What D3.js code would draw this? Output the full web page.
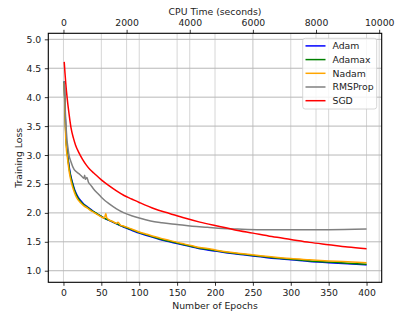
<html>
<head>
    <script type="text/javascript" src="https://cdnjs.cloudflare.com/ajax/libs/d3/7.8.5/d3.min.js"></script>
    <style>
        body { margin: 0; background: white; }
        text { font-family: "DejaVu Sans", sans-serif; fill: #222; }
    </style>
</head>
<body>
    <div id="viz"></div>
    <script type="text/javascript">

    // series names (legend order = draw order)
    var names = ["Adam", "Adamax", "Nadam", "RMSProp", "SGD"];
    var colors = ["blue", "green", "orange", "gray", "red"];

    // [epoch, training loss]
    var adam = [[1,4.27],[2,3.85],[3,3.42],[4,3.2],[5,3.07],[6,2.95],[7,2.85],[8,2.76],[10,2.62],[12,2.52],[14,2.43],[16,2.36],[19,2.28],[23,2.21],[27,2.15],[32,2.10],[36,2.06],[40,2.02],[45,1.98],[50,1.94],[55,1.90],[60,1.87],[70,1.81],[80,1.75],[90,1.70],[100,1.65],[110,1.61],[120,1.57],[130,1.53],[140,1.50],[150,1.47],[160,1.44],[170,1.41],[180,1.38],[190,1.36],[200,1.34],[220,1.30],[240,1.27],[260,1.24],[280,1.21],[300,1.19],[325,1.16],[350,1.14],[375,1.12],[400,1.10]];
    var adamax = [[1,4.27],[2,3.82],[3,3.38],[4,3.16],[5,3.03],[6,2.92],[7,2.82],[8,2.73],[10,2.60],[12,2.50],[14,2.41],[16,2.34],[19,2.26],[23,2.19],[27,2.14],[32,2.09],[36,2.05],[40,2.02],[45,1.98],[50,1.94],[55,1.90],[60,1.875],[70,1.815],[80,1.76],[90,1.71],[100,1.66],[110,1.62],[120,1.58],[130,1.54],[140,1.51],[150,1.48],[160,1.45],[170,1.42],[180,1.39],[190,1.37],[200,1.35],[220,1.31],[240,1.28],[260,1.25],[280,1.22],[300,1.20],[325,1.17],[350,1.15],[375,1.13],[400,1.11]];
    var nadam = [[1,4.25],[2,3.75],[3,3.3],[4,3.08],[5,2.98],[6,2.87],[7,2.77],[8,2.68],[10,2.55],[12,2.45],[14,2.37],[16,2.30],[19,2.23],[23,2.17],[27,2.12],[32,2.08],[36,2.04],[40,2.01],[45,1.97],[50,1.93],[54,1.91],[56,1.99],[57,1.92],[60,1.88],[65,1.85],[70,1.82],[72,1.84],[75,1.79],[80,1.77],[85,1.745],[90,1.72],[100,1.67],[110,1.63],[120,1.59],[130,1.555],[140,1.525],[150,1.49],[160,1.46],[170,1.43],[180,1.40],[190,1.385],[200,1.36],[220,1.32],[240,1.29],[260,1.26],[280,1.235],[300,1.21],[325,1.19],[350,1.17],[375,1.155],[400,1.14]];
    var rmsprop = [[1,4.27],[2,3.9],[3,3.6],[4,3.38],[5,3.22],[6,3.12],[7,3.02],[10,2.88],[14,2.75],[18,2.70],[22,2.66],[25,2.62],[27,2.60],[28,2.65],[29,2.58],[31,2.61],[33,2.53],[36,2.48],[40,2.41],[45,2.34],[50,2.27],[55,2.21],[60,2.16],[70,2.07],[80,2.0],[90,1.95],[100,1.91],[115,1.86],[130,1.83],[150,1.80],[170,1.77],[190,1.75],[210,1.73],[230,1.72],[260,1.71],[300,1.71],[350,1.71],[400,1.72]];
    var sgd = [[1,4.61],[2,4.42],[3,4.25],[5,3.97],[7,3.75],[10,3.47],[13,3.30],[16,3.17],[20,3.05],[25,2.93],[30,2.83],[35,2.75],[40,2.69],[50,2.57],[60,2.47],[70,2.38],[80,2.30],[90,2.24],[100,2.18],[120,2.07],[140,1.99],[160,1.91],[180,1.84],[200,1.78],[225,1.71],[250,1.65],[275,1.59],[300,1.54],[325,1.49],[350,1.45],[375,1.41],[400,1.38]];
    var series = [adam, adamax, nadam, rmsprop, sgd];

    // ticks
    var epochTicks = [0, 50, 100, 150, 200, 250, 300, 350, 400];
    var cpuTicks = [0, 2000, 4000, 6000, 8000, 10000];
    var lossTicks = [1.0, 1.5, 2.0, 2.5, 3.0, 3.5, 4.0, 4.5, 5.0];

    var W = 398, H = 317;
    var padL = 48.3, padR = 381.7, padT = 33.3, padB = 282.3;

    var x = d3.scaleLinear().domain([-20, 420]).range([padL, padR]);
    var xTop = d3.scaleLinear().domain([-480, 10080]).range([padL, padR]);
    var y = d3.scaleLinear().domain([0.80, 5.104]).range([padB, padT]);

    var svg = d3.select("#viz")
        .append("svg")
        .attr("width", W)
        .attr("height", H);

    svg.append("rect").attr("width", W).attr("height", H).attr("fill", "white");

    // grid
    var grid = svg.append("g");
    grid.selectAll(".vg").data(epochTicks).enter().append("line")
        .attr("x1", d => x(d)).attr("x2", d => x(d))
        .attr("y1", padT).attr("y2", padB)
        .style("stroke", "#d6d6d6").style("stroke-width", 1);
    grid.selectAll(".vt").data(cpuTicks).enter().append("line")
        .attr("x1", d => xTop(d)).attr("x2", d => xTop(d))
        .attr("y1", padT).attr("y2", padB)
        .style("stroke", "#d6d6d6").style("stroke-width", 1);
    grid.selectAll(".hg").data(lossTicks).enter().append("line")
        .attr("x1", padL).attr("x2", padR)
        .attr("y1", d => y(d)).attr("y2", d => y(d))
        .style("stroke", "#b8b8b8").style("stroke-width", 1);

    // lines
    svg.append("clipPath").attr("id", "clip")
        .append("rect").attr("x", padL).attr("y", padT)
        .attr("width", padR - padL).attr("height", padB - padT);

    var line = d3.line()
        .x(d => x(d[0]))
        .y(d => y(d[1]))
        .curve(d3.curveMonotoneX);

    svg.append("g").attr("clip-path", "url(#clip)")
        .selectAll("path").data(series).enter().append("path")
        .attr("d", line)
        .style("fill", "none")
        .style("stroke", (d, i) => colors[i])
        .style("stroke-width", 1.5)
        .style("stroke-linejoin", "round");

    // axes
    var fs = "9.3px";
    var ax = svg.append("g").attr("transform", "translate(0," + padB + ")")
        .call(d3.axisBottom(x).tickValues(epochTicks).tickFormat(d3.format("d")).tickSize(3.5).tickPadding(3.5));
    var axTop = svg.append("g").attr("transform", "translate(0," + padT + ")")
        .call(d3.axisTop(xTop).tickValues(cpuTicks).tickFormat(d3.format("d")).tickSize(3.5).tickPadding(3.5));
    var ay = svg.append("g").attr("transform", "translate(" + padL + ",0)")
        .call(d3.axisLeft(y).tickValues(lossTicks).tickFormat(d3.format(".1f")).tickSize(3.5).tickPadding(3.5));

    [ax, axTop, ay].forEach(function(g) {
        g.select(".domain").remove();
        g.selectAll("text").style("font-size", fs).style("font-family", "DejaVu Sans").attr("fill", "#222");
        g.selectAll("line").style("stroke", "#000").style("stroke-width", 0.8);
    });

    // frame
    svg.append("rect")
        .attr("x", padL).attr("y", padT)
        .attr("width", padR - padL).attr("height", padB - padT)
        .style("fill", "none").style("stroke", "#000").style("stroke-width", 1.1);

    // axis titles
    svg.append("text").attr("x", (padL + padR) / 2).attr("y", 308.5)
        .attr("text-anchor", "middle").style("font-size", fs).text("Number of Epochs");
    svg.append("text").attr("x", (padL + padR) / 2).attr("y", 15)
        .attr("text-anchor", "middle").style("font-size", fs).text("CPU Time (seconds)");
    svg.append("text")
        .attr("transform", "translate(21.5," + ((padT + padB) / 2) + ") rotate(-90)")
        .attr("text-anchor", "middle").style("font-size", fs).text("Training Loss");

    // legend
    var lg = svg.append("g");
    lg.append("rect")
        .attr("x", 302.7).attr("y", 38.3).attr("width", 74).attr("height", 70.7)
        .attr("rx", 2.5)
        .style("fill", "white").style("fill-opacity", 0.8)
        .style("stroke", "#cccccc").style("stroke-width", 0.8);
    var items = lg.selectAll(".item").data(names).enter().append("g")
        .attr("transform", (d, i) => "translate(0," + (45.9 + i * 13.7) + ")");
    items.append("line")
        .attr("x1", 305.5).attr("x2", 325.5)
        .style("stroke", (d, i) => colors[i]).style("stroke-width", 1.5);
    items.append("text")
        .attr("x", 332.5).attr("dy", "0.35em")
        .style("font-size", fs).text(d => d);

    </script>
</body>
</html>
